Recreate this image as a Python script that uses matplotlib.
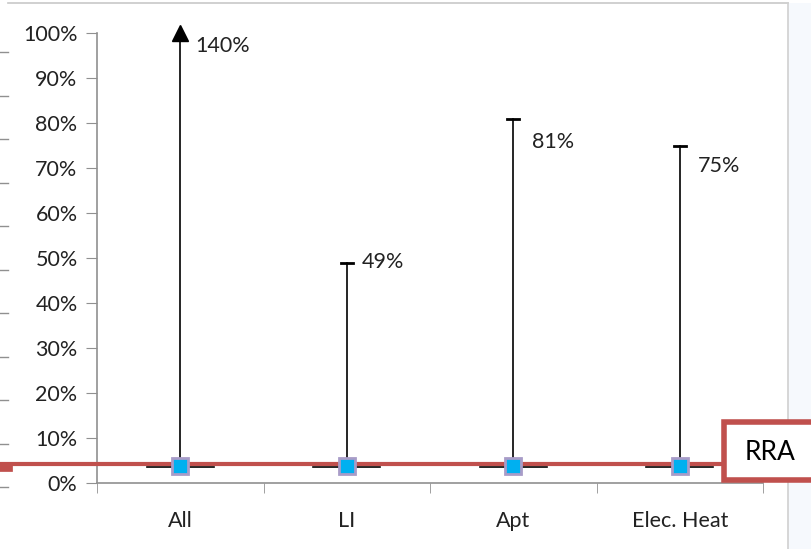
import numpy as np
import matplotlib.pyplot as plt
from matplotlib.lines import Line2D
from matplotlib.patches import Rectangle

plt.rcParams['font.family'] = ['Lato', 'DejaVu Sans']

# chart data
categories = ['All', 'LI', 'Apt', 'Elec. Heat']
low = [0.036, 0.036, 0.036, 0.036]
mid = [0.038, 0.038, 0.038, 0.038]
high = [1.40, 0.49, 0.81, 0.75]
high_labels = ['140%', '49%', '81%', '75%']
rra = 0.042
y_max = 1.0

fig = plt.figure(figsize=(8.11, 5.49), dpi=100)
fig.patches.append(Rectangle((788 / 811, 0), 1 - 788 / 811, 546 / 549, transform=fig.transFigure,
                             facecolor='#f6f9fd', edgecolor='none', zorder=0))
# frame edges of the surrounding slide
fig.add_artist(Line2D([8 / 811, 788 / 811], [546 / 549, 546 / 549], color='#c8c8c8', lw=1.2))
fig.add_artist(Line2D([788 / 811, 788 / 811], [0, 546 / 549], color='#d0d0d0', lw=1.2))
for k in range(11):
    yy = 1 - (52 + 43.5 * k) / 549
    fig.add_artist(Line2D([0, 8 / 811], [yy, yy], color='#909090', lw=1))
fig.add_artist(Line2D([0, 8 / 811], [1 - 467 / 549, 1 - 467 / 549], color='#c0504d', lw=7))

ax = fig.add_axes([97 / 811, 66 / 549, 666 / 811, 450 / 549])
x = np.arange(len(categories))

# RRA reference line, running out to the left edge
ax.axhline(rra, xmin=-0.15, xmax=(722 - 97) / 666, color='#c0504d', lw=3, zorder=3, clip_on=False)

for i in x:
    top = min(high[i], y_max)
    ax.plot([i, i], [low[i], top], color='black', lw=1.2, zorder=2, clip_on=False)
    if high[i] > y_max:
        ax.plot(i, y_max, marker='^', color='black', markersize=11, zorder=4, clip_on=False)
    else:
        ax.plot([i - 0.035, i + 0.035], [top, top], color='black', lw=2, zorder=2)
    ax.plot([i - 0.2, i + 0.2], [low[i], low[i]], color='black', lw=1.2, zorder=2)

ax.plot(x, mid, linestyle='none', marker='s', markersize=11, markerfacecolor='#00b0f0',
        markeredgecolor='#a89cc8', markeredgewidth=2, zorder=5)

label_offsets = [(0.09, -0.03), (0.09, 0.0), (0.11, -0.052), (0.11, -0.045)]
for i, lab in enumerate(high_labels):
    dx, dy = label_offsets[i]
    ax.text(i + dx, min(high[i], y_max) + dy, lab, fontsize=15.5, color='#222222', va='center', ha='left')

ax.set_xlim(-0.5, len(categories) - 0.5)
ax.set_ylim(0, y_max)
ax.set_yticks(np.arange(0, 1.01, 0.1))
ax.set_yticklabels([f'{int(round(v * 100))}%' for v in np.arange(0, 1.01, 0.1)])
ax.set_xticks(x)
ax.set_xticklabels(categories)
ax.set_xticks(np.arange(-0.5, len(categories), 1), minor=True)
ax.tick_params(axis='x', which='major', length=0, pad=20, labelsize=15.5, labelcolor='#222222')
ax.tick_params(axis='x', which='minor', length=7, color='#909090', direction='out')
ax.tick_params(axis='y', length=8, color='#909090', labelsize=15.5, labelcolor='#222222', pad=6)
for s in ['top', 'right']:
    ax.spines[s].set_visible(False)
for s in ['left', 'bottom']:
    ax.spines[s].set_color('#909090')
    ax.spines[s].set_linewidth(1.2)

# RRA callout box, cut by the right edge
fig.patches.append(Rectangle((724 / 811, 1 - 480 / 549), 100 / 811, 58 / 549, transform=fig.transFigure,
                             facecolor='white', edgecolor='#c0504d', lw=4, zorder=6))
fig.text(770 / 811, 1 - 452 / 549, 'RRA', fontsize=19, ha='center', va='center', color='black', zorder=7)

fig.savefig('out.png', dpi=100)
